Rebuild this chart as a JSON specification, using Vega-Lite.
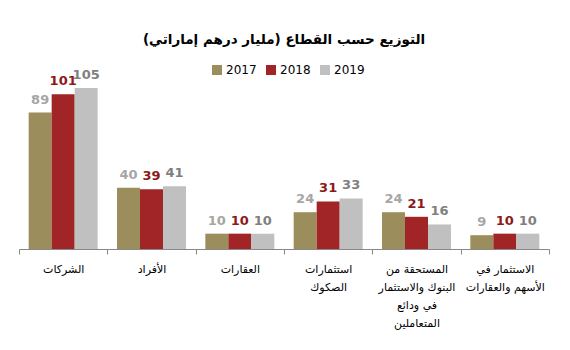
{
  "$schema": "https://vega.github.io/schema/vega-lite/v6.json",
  "width": 530,
  "height": 161,
  "padding": {"left": 18, "right": 22, "top": 32, "bottom": 5},
  "background": "white",
  "config": {"view": {"stroke": null}, "font": "Liberation Sans"},
  "title": {
    "text": "التوزيع حسب القطاع (مليار درهم إماراتي)",
    "font": "DejaVu Sans",
    "fontSize": 13.5,
    "fontWeight": "bold",
    "color": "#000000",
    "anchor": "middle",
    "offset": 18
  },
  "data": {
    "values": [
      {"cat": "الشركات", "year": "2017", "value": 89},
      {"cat": "الشركات", "year": "2018", "value": 101},
      {"cat": "الشركات", "year": "2019", "value": 105},
      {"cat": "الأفراد", "year": "2017", "value": 40},
      {"cat": "الأفراد", "year": "2018", "value": 39},
      {"cat": "الأفراد", "year": "2019", "value": 41},
      {"cat": "العقارات", "year": "2017", "value": 10},
      {"cat": "العقارات", "year": "2018", "value": 10},
      {"cat": "العقارات", "year": "2019", "value": 10},
      {"cat": "استثمارات\nالصكوك", "year": "2017", "value": 24},
      {"cat": "استثمارات\nالصكوك", "year": "2018", "value": 31},
      {"cat": "استثمارات\nالصكوك", "year": "2019", "value": 33},
      {"cat": "المستحقة من\nالبنوك والاستثمار\nفي ودائع\nالمتعاملين", "year": "2017", "value": 24},
      {"cat": "المستحقة من\nالبنوك والاستثمار\nفي ودائع\nالمتعاملين", "year": "2018", "value": 21},
      {"cat": "المستحقة من\nالبنوك والاستثمار\nفي ودائع\nالمتعاملين", "year": "2019", "value": 16},
      {"cat": "الاستثمار في\nالأسهم والعقارات", "year": "2017", "value": 9},
      {"cat": "الاستثمار في\nالأسهم والعقارات", "year": "2018", "value": 10},
      {"cat": "الاستثمار في\nالأسهم والعقارات", "year": "2019", "value": 10}
    ]
  },
  "encoding": {
    "x": {
      "field": "cat",
      "type": "nominal",
      "sort": null,
      "scale": {"paddingInner": 0, "paddingOuter": 0},
      "axis": {
        "title": null,
        "labelAngle": 0,
        "labelExpr": "isValid(datum.value) ? split(datum.value, '\\n') : ''",
        "labelFont": "DejaVu Sans",
        "labelFontSize": 11,
        "labelLineHeight": 18,
        "labelColor": "#000000",
        "labelPadding": 9,
        "labelLimit": 0,
        "tickBand": "extent",
        "tickSize": 5,
        "tickColor": "#888888",
        "domainColor": "#888888",
        "ticks": true
      }
    },
    "xOffset": {
      "field": "year",
      "type": "nominal",
      "scale": {"paddingInner": 0, "paddingOuter": 0.42}
    },
    "y": {
      "field": "value",
      "type": "quantitative",
      "scale": {"domain": [0, 105], "nice": false},
      "axis": null
    }
  },
  "layer": [
    {
      "mark": {"type": "bar"},
      "encoding": {
        "color": {
          "field": "year",
          "type": "nominal",
          "scale": {"domain": ["2017", "2018", "2019"], "range": ["#9C8E5C", "#A12527", "#C0C0C0"]},
          "legend": {
            "title": null,
            "orient": "none",
            "direction": "horizontal",
            "legendX": 192,
            "legendY": -24,
            "symbolType": "square",
            "symbolSize": 100,
            "symbolStrokeWidth": 0,
            "labelFontSize": 12,
            "labelFont": "DejaVu Sans",
            "labelColor": "#000000",
            "labelOffset": 3,
            "columnPadding": 8
          }
        }
      }
    },
    {
      "mark": {"type": "text", "baseline": "bottom", "dy": -6, "fontSize": 13, "fontWeight": "bold", "font": "DejaVu Sans"},
      "encoding": {
        "text": {"field": "value", "type": "quantitative"},
        "color": {
          "condition": [
            {"test": "datum.year == '2018'", "value": "#8B1A1A"},
            {"test": "datum.year == '2019'", "value": "#808080"}
          ],
          "value": "#A6A6A6"
        }
      }
    }
  ]
}
